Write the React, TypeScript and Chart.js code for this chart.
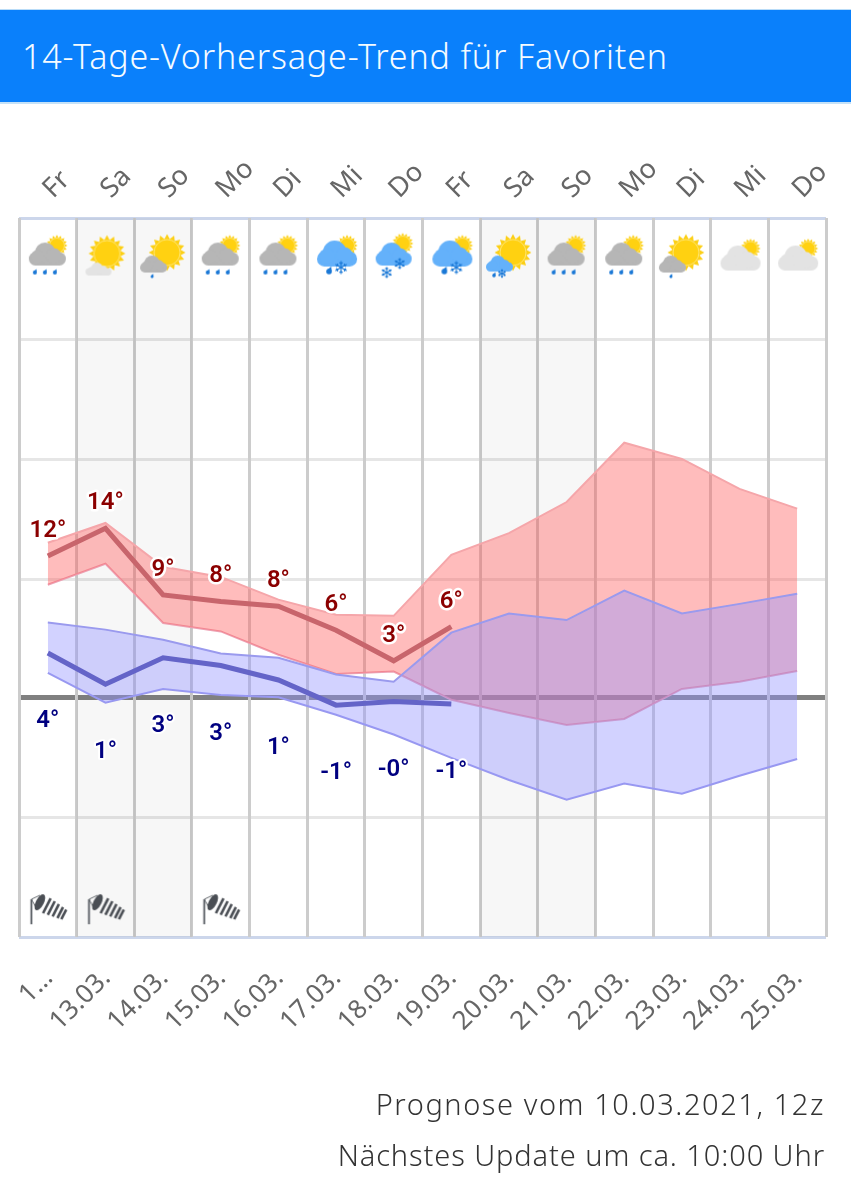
import React, { useEffect, useRef } from "react";
import { Chart, registerables } from "chart.js";

Chart.register(...registerables);

const dayLabels = ["Fr", "Sa", "So", "Mo", "Di", "Mi", "Do", "Fr", "Sa", "So", "Mo", "Di", "Mi", "Do"];
const dateLabels = ["1…", "13.03.", "14.03.", "15.03.", "16.03.", "17.03.", "18.03.", "19.03.", "20.03.", "21.03.", "22.03.", "23.03.", "24.03.", "25.03."];
const weekend = [false, true, true, false, false, false, false, false, true, true, false, false, false, false];
const gridValues = [-20, -10.05, 0, 9.85, 19.85, 29.9, 40];

const maxTemp = [11.8, 14.1, 8.55, 8.0, 7.6, 5.6, 3.05, 5.9, null, null, null, null, null, null];
const minTemp = [3.7, 1.1, 3.3, 2.65, 1.45, -0.65, -0.35, -0.55, null, null, null, null, null, null];
const maxUpper = [12.9, 14.55, 10.9, 10.05, 8.15, 6.9, 6.8, 11.9, 13.7, 16.3, 21.25, 19.9, 17.4, 15.75];
const maxLower = [9.4, 11.15, 6.2, 5.5, 3.55, 1.95, 2.15, -0.2, -1.3, -2.3, -1.8, 0.7, 1.3, 2.2];
const minUpper = [6.25, 5.65, 4.8, 3.65, 3.3, 1.9, 1.3, 5.4, 7.0, 6.45, 8.9, 7.0, 7.8, 8.65];
const minLower = [2.05, -0.45, 0.7, 0.2, 0, -1.45, -3.1, -5.05, -6.9, -8.55, -7.2, -8.05, -6.55, -5.15];

const maxLabels = ["12°", "14°", "9°", "8°", "8°", "6°", "3°", "6°"];
const minLabels = ["4°", "1°", "3°", "3°", "1°", "-1°", "-0°", "-1°"];

const weatherIcons = ["rain", "sunLight", "sunShower", "rain", "rain", "sleet", "snow", "sleet", "sunSleet", "rain", "rain", "sunShower", "cloudy", "cloudy"];
const windy = [true, true, false, true, false, false, false, false, false, false, false, false, false, false];
const iconLevel = 36.7;
const windLevel = -17.6;

const headerText = "14-Tage-Vorhersage-Trend für Favoriten";
const footerLines = ["Prognose vom 10.03.2021, 12z", "Nächstes Update um ca. 10:00 Uhr"];

function cloud(c: CanvasRenderingContext2D, x0: number, x1: number, y0: number, y1: number, color: string) {
  const w = x1 - x0, h = y1 - y0;
  c.fillStyle = color;
  c.beginPath();
  c.roundRect(x0, y0 + h * 0.42, w, h * 0.58, h * 0.28);
  c.fill();
  c.beginPath();
  c.arc(x0 + w * 0.44, y0 + h * 0.45, h * 0.45, 0, Math.PI * 2);
  c.fill();
  c.beginPath();
  c.arc(x0 + w * 0.68, y0 + h * 0.58, h * 0.33, 0, Math.PI * 2);
  c.fill();
  c.beginPath();
  c.arc(x0 + w * 0.24, y0 + h * 0.62, h * 0.3, 0, Math.PI * 2);
  c.fill();
}

function sun(c: CanvasRenderingContext2D, x: number, y: number, r: number) {
  const R = r * 1.42, n = 16;
  c.fillStyle = "#fccf14";
  c.beginPath();
  for (let i = 0; i < n * 2; i++) {
    const a = (i * Math.PI) / n;
    const q = i % 2 === 0 ? R : r * 1.06;
    c.lineTo(x + Math.cos(a) * q, y + Math.sin(a) * q);
  }
  c.closePath();
  c.fill();
  c.strokeStyle = "#ffeb8a";
  c.lineWidth = 0.8;
  c.beginPath();
  c.arc(x, y, r, 0, Math.PI * 2);
  c.fillStyle = "#ffd111";
  c.fill();
  c.stroke();
}

function drop(c: CanvasRenderingContext2D, x: number, y: number, r: number) {
  c.fillStyle = "#1a78d6";
  c.beginPath();
  c.arc(x, y, r, 0, Math.PI * 2);
  c.fill();
  c.beginPath();
  c.moveTo(x - r * 0.8, y - r * 0.5);
  c.lineTo(x + r * 0.8, y - r * 1.8);
  c.lineTo(x + r * 0.9, y - r * 0.3);
  c.closePath();
  c.fill();
}

function flake(c: CanvasRenderingContext2D, x: number, y: number, r: number) {
  c.strokeStyle = "#1a78d6";
  c.lineWidth = 1.1;
  for (let i = 0; i < 6; i++) {
    const a = (i * Math.PI) / 3 + Math.PI / 6;
    const ex = x + Math.cos(a) * r, ey = y + Math.sin(a) * r;
    c.beginPath();
    c.moveTo(x, y);
    c.lineTo(ex, ey);
    const mx = x + Math.cos(a) * r * 0.6, my = y + Math.sin(a) * r * 0.6;
    c.moveTo(mx + Math.cos(a + 1) * r * 0.3, my + Math.sin(a + 1) * r * 0.3);
    c.lineTo(mx, my);
    c.lineTo(mx + Math.cos(a - 1) * r * 0.3, my + Math.sin(a - 1) * r * 0.3);
    c.stroke();
  }
}

const GREY = "#b6b6b6";
const LIGHT = "#e3e3e3";
const BLUE = "#64b1fa";

function makeIcon(kind: string): HTMLCanvasElement {
  const el = document.createElement("canvas");
  el.width = 70;
  el.height = 70;
  const c = el.getContext("2d")!;
  c.translate(35, 35);
  if (kind === "rain") {
    sun(c, 9, -12, 7.5);
    cloud(c, -19, 18, -15, 8, GREY);
    [-13, -3, 7].forEach((x) => drop(c, x, 15, 2));
  } else if (kind === "sunLight") {
    sun(c, 1.5, -4, 13);
    cloud(c, -20, 6, 5, 18, LIGHT);
  } else if (kind === "sunShower") {
    sun(c, 4, -5, 13);
    cloud(c, -23, 4, -2, 15, GREY);
    drop(c, -11, 19, 1.5);
  } else if (kind === "sleet") {
    sun(c, 11, -12, 7.5);
    cloud(c, -19, 21, -17, 9, BLUE);
    drop(c, -7, 14, 2.8);
    flake(c, 5, 10, 6.5);
  } else if (kind === "snow") {
    sun(c, 9, -14, 7.5);
    cloud(c, -18, 18, -15, 8, BLUE);
    flake(c, 6, 6, 5.5);
    flake(c, -7, 15, 5.5);
  } else if (kind === "sunSleet") {
    sun(c, 4, -5, 13);
    cloud(c, -23, 4, -2, 14, BLUE);
    drop(c, -15, 18, 1.8);
    flake(c, -7, 16, 4.2);
  } else {
    sun(c, 11, -9, 7);
    cloud(c, -19, 21, -12, 13, LIGHT);
  }
  return el;
}

function makeWindIcon(): HTMLCanvasElement {
  const el = document.createElement("canvas");
  el.width = 50;
  el.height = 44;
  const c = el.getContext("2d")!;
  c.translate(25, 22);
  c.strokeStyle = "#555a60";
  c.fillStyle = "#4a4e54";
  c.lineWidth = 1.8;
  c.beginPath();
  c.moveTo(-16.5, -9);
  c.lineTo(-16.5, 16);
  c.stroke();
  c.lineWidth = 0.9;
  c.beginPath();
  c.moveTo(-16.5, -9);
  c.lineTo(-8, -13);
  c.moveTo(-16.5, -9);
  c.lineTo(-11, 1);
  c.stroke();
  c.save();
  c.translate(-8, -6);
  c.rotate((27 * Math.PI) / 180);
  c.beginPath();
  c.ellipse(0, 0, 4, 8.8, 0, 0, Math.PI * 2);
  c.fill();
  [6.5, 11.5, 16.5, 21.5, 25.5].forEach((u, i) => {
    const h = 8.4 - i * 0.75;
    c.fillRect(u, -h, 2.6, h * 2);
  });
  c.restore();
  return el;
}

function App() {
  const ref = useRef<HTMLCanvasElement | null>(null);

  useEffect(() => {
    if (!ref.current) return;
    const icons = weatherIcons.map(makeIcon);
    const windIcon = makeWindIcon();

    const labelPlugin = {
      id: "tempLabels",
      afterDatasetsDraw(chart: any) {
        const c = chart.ctx;
        const x = chart.scales.x;
        const y = chart.scales.y;
        c.save();
        c.font = "600 24px Roboto";
        c.textAlign = "center";
        c.textBaseline = "middle";
        c.lineJoin = "round";
        const put = (texts: string[], values: (number | null)[], dy: number, color: string, halo: number) => {
          texts.forEach((t, i) => {
            const px = x.getPixelForValue(i);
            const py = y.getPixelForValue(values[i] as number) + dy;
            c.strokeStyle = "#ffffff";
            c.lineWidth = halo;
            c.strokeText(t, px, py);
            c.fillStyle = color;
            c.fillText(t, px, py);
          });
        };
        put(maxLabels, maxTemp, -25, "#8b0000", 5);
        put(minLabels, minTemp, 68, "#000080", 4);
        c.restore();
      },
    };

    const RED_FILL = "rgba(255,95,95,0.42)";
    const BLUE_FILL = "rgba(147,147,255,0.42)";

    const band = (data: (number | null)[], color: string, order: number, fill: any) => ({
      type: "line",
      data,
      borderColor: color,
      borderWidth: 2,
      pointRadius: 0,
      tension: 0,
      fill,
      order,
    });

    const chart = new Chart(ref.current, {
      type: "line",
      plugins: [labelPlugin],
      data: {
        labels: dateLabels,
        datasets: [
          {
            type: "bar",
            data: weekend.map((w) => (w ? [-20, 40] : null)),
            backgroundColor: "rgba(0,0,0,0.03)",
            barPercentage: 1,
            categoryPercentage: 1,
            order: 10,
          },
          band(maxUpper, "#f5a6aa", 8, { target: "+1", above: RED_FILL, below: RED_FILL }),
          band(maxLower, "#eca2b4", 8, false),
          band(minUpper, "#9a9aee", 7, { target: "+1", above: BLUE_FILL, below: BLUE_FILL }),
          band(minLower, "#9a9aee", 7, false),
          {
            type: "line",
            data: maxTemp,
            borderColor: "#c8656c",
            borderWidth: 5,
            pointRadius: 0,
            tension: 0,
            fill: false,
            order: 5,
          },
          {
            type: "line",
            data: minTemp,
            borderColor: "#6464c8",
            borderWidth: 5,
            pointRadius: 0,
            tension: 0,
            fill: false,
            order: 4,
          },
          {
            type: "line",
            data: weatherIcons.map(() => iconLevel),
            showLine: false,
            pointStyle: icons,
            pointRadius: 12,
            order: 2,
          },
          {
            type: "line",
            data: windy.map((w) => (w ? windLevel : null)),
            showLine: false,
            pointStyle: windIcon,
            pointRadius: 12,
            order: 2,
          },
        ],
      } as any,
      options: {
        animation: false,
        responsive: false,
        events: [],
        layout: { padding: { left: 19, right: 35, top: 130, bottom: 143 } },
        plugins: { legend: { display: false }, tooltip: { enabled: false }, title: { display: false } },
        scales: {
          x: {
            type: "category",
            position: "bottom",
            offset: true,
            grid: { offset: true, color: "#cccccc", lineWidth: 3, drawTicks: false, z: -1 },
            border: { display: false },
            ticks: {
              autoSkip: false,
              minRotation: 45,
              maxRotation: 45,
              color: "#666666",
              padding: 26,
              labelOffset: 1,
              font: { family: "'Noto Sans'", size: 26 },
            },
            afterFit: (s: any) => {
              s.height = 120;
              s.paddingLeft = 0;
              s.paddingRight = 0;
            },
          },
          xTop: {
            type: "category",
            axis: "x",
            position: "top",
            labels: dayLabels,
            offset: true,
            grid: { display: false },
            border: { display: false },
            ticks: {
              autoSkip: false,
              minRotation: 45,
              maxRotation: 45,
              color: "#666666",
              padding: 5,
              labelOffset: 23,
              font: { family: "'Noto Sans'", size: 27 },
            },
            afterFit: (s: any) => {
              s.height = 88;
              s.paddingLeft = 0;
              s.paddingRight = 0;
            },
          },
          y: {
            type: "linear",
            min: -20,
            max: 40,
            afterBuildTicks: (s: any) => {
              s.ticks = gridValues.map((value) => ({ value }));
            },
            ticks: { display: false },
            border: { display: false },
            grid: {
              z: -2,
              drawTicks: false,
              color: (ctx: any) => {
                const v = ctx.tick?.value;
                if (v === 0) return "#808080";
                if (v === 40 || v === -20) return "#ccd6eb";
                return "#e6e6e6";
              },
              lineWidth: (ctx: any) => (ctx.tick?.value === 0 ? 5 : 3),
            },
            afterFit: (s: any) => {
              s.width = 0;
            },
          },
        },
      } as any,
    });
    return () => chart.destroy();
  }, []);

  return (
    <div style={{ position: "absolute", left: 0, top: 0, width: 861, height: 1200, background: "#fff", overflow: "hidden" }}>
      <canvas ref={ref} width={861} height={1200} style={{ position: "absolute", left: 0, top: 0, display: "block" }} />
      <div
        style={{
          position: "absolute",
          left: 0,
          top: 9,
          width: 829,
          height: 92,
          background: "#0a80fb",
          borderTop: "1px solid #b9dcf8",
          borderBottom: "2px solid #c5e2f8",
          color: "#f5fbff",
          fontFamily: "'Noto Sans'",
          fontWeight: 300,
          fontSize: 34,
          letterSpacing: 0.85,
          lineHeight: "92px",
          paddingLeft: 22,
          whiteSpace: "nowrap",
        }}
      >
        {headerText}
      </div>
      {footerLines.map((t, i) => (
        <div
          key={t}
          style={{
            position: "absolute",
            right: 36,
            top: 1084 + i * 51,
            color: "#333",
            fontFamily: "'Noto Sans'",
            fontWeight: 300,
            fontSize: 29,
            letterSpacing: i === 0 ? 1.57 : 0.91,
            lineHeight: "40px",
            whiteSpace: "nowrap",
          }}
        >
          {t}
        </div>
      ))}
    </div>
  );
}

export default App;
